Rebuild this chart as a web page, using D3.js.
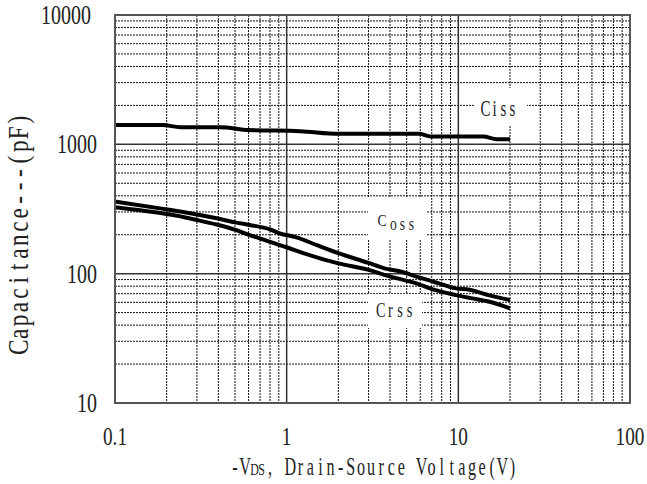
<!DOCTYPE html>
<html>
<head>
<meta charset="utf-8">
<script src="https://cdn.jsdelivr.net/npm/d3@7"></script>
<style>
  html, body { margin: 0; padding: 0; background: #fff; }
  svg { display: block; }
  text { font-family: "Liberation Serif", "DejaVu Serif", serif; fill: #222; }
</style>
</head>
<body>
<div id="chart"></div>
<script>
  // Data (V in volts, C in pF)
  const cissV = [0.1, 0.19, 0.24, 0.41, 0.6, 1.2, 2, 5.9, 6.9, 14, 16.7, 20];
  const cissC = [1410, 1410, 1355, 1355, 1290, 1265, 1205, 1205, 1150, 1150, 1095, 1095];

  const cossV = [0.1, 0.2, 0.23, 0.3, 0.39, 0.51, 0.61, 0.8, 0.91, 1.14, 1.5, 2, 3, 3.7, 4.6, 5.7, 7.1, 9.7, 11.6, 15.2, 20];
  const cossC = [361, 314, 305, 287, 268, 248, 238, 220, 205, 191, 166, 144, 121, 110, 104, 95, 87, 77, 75, 68, 62.5];

  const crssV = [0.1, 0.2, 0.23, 0.3, 0.39, 0.51, 0.61, 0.8, 1, 1.25, 2, 3, 3.7, 5.7, 7.1, 9.7, 11.6, 15.2, 20];
  const crssC = [326, 289, 280, 260, 240, 217, 199, 176, 160, 144, 120, 107, 98, 84, 75.6, 68.3, 65, 60.6, 54];

  const xTicks = [0.1, 1, 10, 100];
  const xTickLabels = ['0.1', '1', '10', '100'];
  const yTicks = [10, 100, 1000, 10000];
  const yTickLabels = ['10', '100', '1000', '10000'];

  (function () {
    const width = 647, height = 484;
    const pLeft = 115, pRight = 630, pTop = 15, pBottom = 403;

    const svg = d3.select('#chart').append('svg')
      .attr('width', width)
      .attr('height', height);

    const x = d3.scaleLog().domain([0.1, 100]).range([pLeft, pRight]);
    const y = d3.scaleLog().domain([10, 10000]).range([pBottom, pTop]);

    // minor / major grid values
    const minorX = [], minorY = [];
    [0.1, 1, 10].forEach(d => { for (let k = 2; k <= 9; k++) minorX.push(d * k); });
    [10, 100, 1000].forEach(d => { for (let k = 2; k <= 9; k++) minorY.push(d * k); });

    const grid = svg.append('g');
    grid.selectAll('.vminor').data(minorX).enter().append('line')
      .attr('x1', d => x(d)).attr('x2', d => x(d))
      .attr('y1', pTop).attr('y2', pBottom)
      .attr('stroke', '#111').attr('stroke-width', 1).attr('stroke-dasharray', '2,1');
    grid.selectAll('.hminor').data(minorY).enter().append('line')
      .attr('y1', d => y(d)).attr('y2', d => y(d))
      .attr('x1', pLeft).attr('x2', pRight)
      .attr('stroke', '#111').attr('stroke-width', 1).attr('stroke-dasharray', '2,1');
    grid.selectAll('.vmajor').data([1, 10]).enter().append('line')
      .attr('x1', d => x(d)).attr('x2', d => x(d))
      .attr('y1', pTop).attr('y2', pBottom)
      .attr('stroke', '#333').attr('stroke-width', 1.5);
    grid.selectAll('.hmajor').data([100, 1000]).enter().append('line')
      .attr('y1', d => y(d)).attr('y2', d => y(d))
      .attr('x1', pLeft).attr('x2', pRight)
      .attr('stroke', '#333').attr('stroke-width', 1.5);

    // white boxes behind the curve names
    const boxes = [
      { x: 475, y: 88, w: 52, h: 37 },
      { x: 368, y: 198, w: 59, h: 42 },
      { x: 368, y: 294, w: 54, h: 34 }
    ];
    svg.selectAll('.box').data(boxes).enter().append('rect')
      .attr('x', d => d.x).attr('y', d => d.y)
      .attr('width', d => d.w).attr('height', d => d.h)
      .attr('fill', '#fff');

    // curves
    const line = d3.line()
      .x(d => x(d[0]))
      .y(d => y(d[1]))
      .curve(d3.curveMonotoneX);

    [[cissV, cissC], [cossV, cossC], [crssV, crssC]].forEach(([vs, cs]) => {
      svg.append('path')
        .datum(vs.map((v, i) => [v, cs[i]]))
        .attr('d', line)
        .attr('fill', 'none')
        .attr('stroke', '#000')
        .attr('stroke-width', 4)
        .attr('stroke-linejoin', 'round');
    });

    // frame
    svg.append('rect')
      .attr('x', pLeft).attr('y', pTop)
      .attr('width', pRight - pLeft).attr('height', pBottom - pTop)
      .attr('fill', 'none').attr('stroke', '#555').attr('stroke-width', 2);

    // fixed-pitch text, like the half-width glyphs of the original
    function monoText(parent, str, x0, y0, pitch, size, sx) {
      const t = parent.append('text')
        .attr('transform', `translate(${x0},${y0}) scale(${sx},1)`)
        .attr('font-size', size);
      [...str].forEach((ch, i) => {
        if (ch === ' ') return;
        t.append('tspan')
          .attr('x', (i + 0.5) * pitch / sx)
          .attr('y', 0)
          .attr('text-anchor', 'middle')
          .text(ch);
      });
      return t;
    }

    // tick labels
    svg.selectAll('.xlab').data(xTicks).enter().append('text')
      .attr('transform', d => `translate(${x(d)},445) scale(0.74,1)`)
      .attr('text-anchor', 'middle')
      .attr('font-size', 26)
      .text((d, i) => xTickLabels[i]);

    svg.selectAll('.ylab').data(yTicks).enter().append('text')
      .attr('transform', d => `translate(${d === 10000 ? 91 : 97},${y(d) + 9}) scale(0.74,1)`)
      .attr('text-anchor', 'end')
      .attr('font-size', 27)
      .text((d, i) => yTickLabels[i]);

    // x axis title
    const xt = svg.append('g');
    monoText(xt, '-V', 230, 475, 10, 26, 0.62);
    monoText(xt, 'DS', 251, 475, 7, 17, 0.7);
    monoText(xt, ', Drain-Source Voltage(V)', 265, 475, 10.1, 26, 0.62);

    // y axis title
    const yt = svg.append('g').attr('transform', 'translate(28,354) rotate(-90)');
    monoText(yt, 'Capacitance---(pF)', 0, 0, 13.4, 29, 0.8);

    // curve names
    monoText(svg, 'Ciss', 481, 116, 9, 24, 0.62);
    monoText(svg, 'C', 376, 226, 12, 17, 0.8);
    monoText(svg, 'oss', 389, 230, 9, 18, 0.75);
    monoText(svg, 'Crss', 376, 317, 9.6, 22, 0.65);
  })();
</script>
</body>
</html>
